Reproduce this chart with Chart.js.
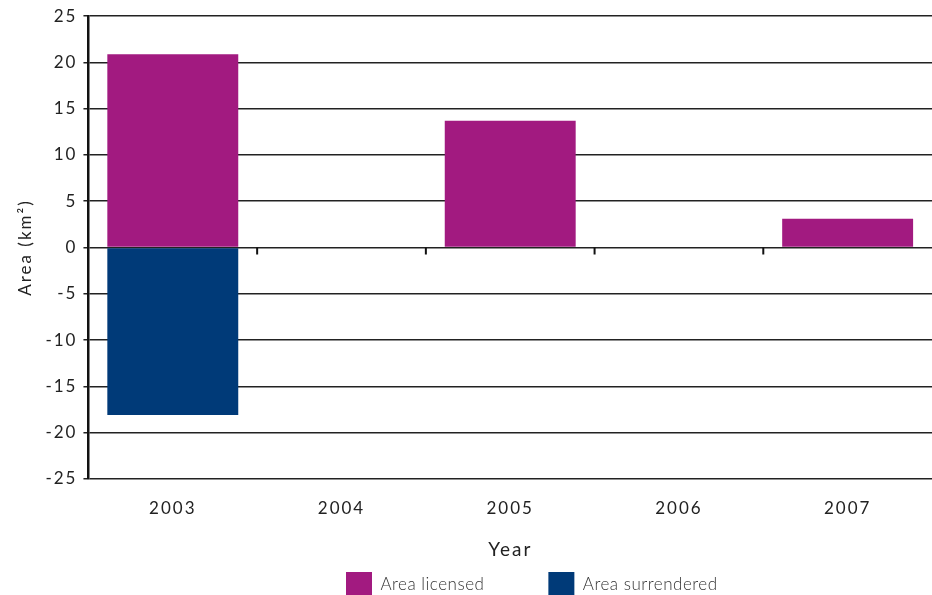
<!DOCTYPE html>
<html>
<head>
<meta charset="utf-8">
<script src="https://cdn.jsdelivr.net/npm/chart.js@4/dist/chart.umd.min.js"></script>
<style>
  html, body { margin: 0; padding: 0; background: #fff; overflow: hidden; }
  #wrap { width: 932px; height: 665px; position: relative; }
</style>
</head>
<body>
<div id="wrap"><canvas id="graficArea"></canvas></div>
<script>
// anos e areas (km2)
const anos = ['2003', '2004', '2005', '2006', '2007']
const areaLicenciada = [20.9, 0, 13.7, 0, 3.1]
const areaRenunciada = [-18.1, 0, 0, 0, 0]
const ticksY = { min: -25, max: 25, step: 5 }

const corTexto = '#222'
const fonte = 'Lato, "Open Sans", sans-serif'

// espacamento das letras nos eixos; legenda quase sem espacamento
const espaco = {
    id: 'espaco',
    afterInit(chart) {
        const lg = chart.legend
        const desenha = lg.draw.bind(lg)
        lg.draw = function (area) {
            chart.ctx.letterSpacing = '0.5px'
            desenha(area)
            chart.ctx.letterSpacing = '2px'
        }
    },
    afterLayout(chart) {
        // legenda um pouco deslocada pra direita e mais perto do titulo
        const lg = chart.legend
        lg.left += 53
        lg.right += 53
        lg.top = 572 - 64
        lg.bottom = lg.top + lg.height
    },
    beforeDraw(chart) { chart.ctx.letterSpacing = '2px' }
}

// tracinhos no eixo zero entre as categorias
const marcasZero = {
    id: 'marcasZero',
    afterDatasetsDraw(chart) {
        const x = chart.scales.x
        const y0 = chart.scales.y.getPixelForValue(0)
        const ctx = chart.ctx
        ctx.save()
        ctx.strokeStyle = '#111'
        ctx.lineWidth = 2
        for (let i = 0; i < anos.length - 1; i++) {
            const px = (x.getPixelForValue(i) + x.getPixelForValue(i + 1)) / 2
            ctx.beginPath()
            ctx.moveTo(px, y0)
            ctx.lineTo(px, y0 + 7)
            ctx.stroke()
        }
        ctx.restore()
    }
}

const graficArea = document.getElementById('graficArea')

new Chart(graficArea, {
    type: 'bar',
    data: {
        labels: anos,
        datasets: [{
            label: 'Area licensed',
            data: areaLicenciada,
            backgroundColor: '#a21a80',
            categoryPercentage: 1,
            barPercentage: 0.776
        }, {
            label: 'Area surrendered',
            data: areaRenunciada,
            backgroundColor: '#003a78',
            categoryPercentage: 1,
            barPercentage: 0.776
        }]
    },
    plugins: [espaco, marcasZero],
    options: {
        responsive: true,
        maintainAspectRatio: false,
        animation: false,
        layout: { padding: { left: 11, right: 0, top: 8, bottom: 0 } },
        plugins: {
            tooltip: { enabled: false },
            legend: {
                position: 'bottom',
                labels: {
                    boxWidth: 26,
                    boxHeight: 26,
                    padding: 64,
                    color: '#333',
                    font: { family: fonte, size: 17, weight: '300' }
                }
            }
        },
        scales: {
            x: {
                stacked: true,
                grid: { display: false },
                border: { display: false },
                ticks: {
                    color: corTexto,
                    padding: 12,
                    font: { family: fonte, size: 17 }
                },
                title: {
                    display: true,
                    text: 'Year',
                    color: corTexto,
                    padding: { top: 7, bottom: 4 },
                    font: { family: fonte, size: 19 }
                }
            },
            y: {
                stacked: true,
                min: ticksY.min,
                max: ticksY.max,
                ticks: {
                    stepSize: ticksY.step,
                    color: corTexto,
                    padding: 6,
                    font: { family: fonte, size: 17 }
                },
                grid: {
                    color: '#222',
                    lineWidth: 1.5,
                    tickLength: 5
                },
                border: { color: '#111', width: 2.5 },
                title: {
                    display: true,
                    text: 'Area (km²)',
                    color: corTexto,
                    padding: { bottom: 10 },
                    font: { family: fonte, size: 17 }
                }
            }
        }
    }
})
</script>
</body>
</html>
